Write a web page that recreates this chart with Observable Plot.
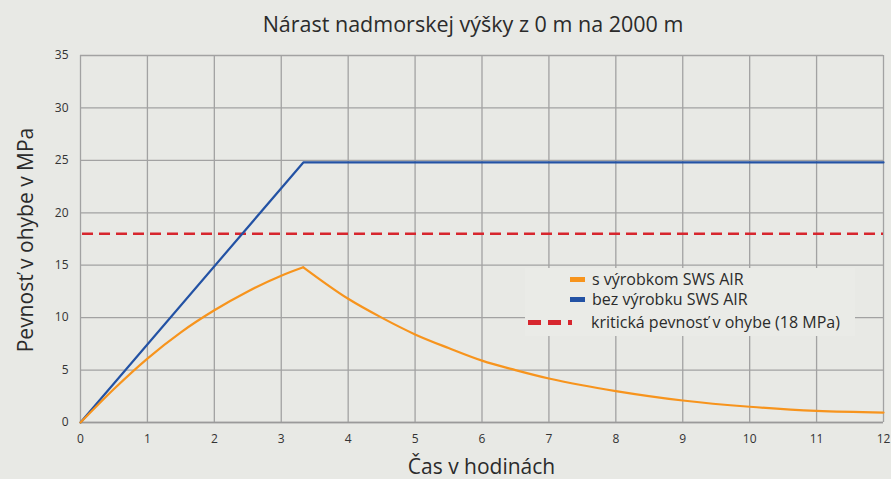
<!DOCTYPE html>
<html>
<head>
<meta charset="utf-8">
<script src="https://cdn.jsdelivr.net/npm/d3@7"></script>
<script src="https://cdn.jsdelivr.net/npm/@observablehq/plot@0.6"></script>
<style>
  html, body { margin: 0; padding: 0; background: #e8e9e5; }
  #wrap { position: relative; width: 891px; height: 479px; font-family: "Open Sans", "Noto Sans", sans-serif; color: #2b2b2b; overflow: hidden; }
  #title { position: absolute; left: 0; width: 946px; top: 9px; text-align: center; font-size: 21.5px; }
  #xlabel { position: absolute; left: 80px; width: 803px; top: 452px; text-align: center; font-size: 21px; }
  #ylabel { position: absolute; left: 25px; top: 240px; transform: translate(-50%, -50%) rotate(-90deg); white-space: nowrap; font-size: 21px; }
  #legend { position: absolute; left: 525px; top: 268px; width: 330px; height: 68px; background: #eaebe7; font-size: 16px; }
  .item { position: absolute; left: 0; height: 20px; display: flex; align-items: center; }
  .sw { display: inline-block; height: 5px; }
  svg { position: absolute; left: 0; top: 0; }
</style>
</head>
<body>
<div id="wrap">
  <div id="chart"></div>
  <div id="title"></div>
  <div id="ylabel"></div>
  <div id="xlabel"></div>
  <div id="legend"></div>
</div>
<script>
const title = "Nárast nadmorskej výšky z 0 m na 2000 m";
const xLabel = "Čas v hodinách";
const yLabel = "Pevnosť v ohybe v MPa";
const seriesNames = ["s výrobkom SWS AIR", "bez výrobku SWS AIR", "kritická pevnosť v ohybe (18 MPa)"];
const seriesColors = ["#f7941d", "#2352a4", "#d7262e"];

// s výrobkom SWS AIR — rising part
const withRiseT = [0, 0.5, 1, 1.5, 2, 2.5, 3, 3.33];
const withRiseV = [0, 3.2, 6.1, 8.6, 10.7, 12.5, 14.0, 14.8];
// s výrobkom SWS AIR — decay part
const withDecayT = [3.33, 4, 4.5, 5, 5.5, 6, 6.5, 7, 7.5, 8, 9, 10, 11, 12];
const withDecayV = [14.8, 11.8, 10.0, 8.4, 7.1, 5.9, 5.0, 4.2, 3.55, 3.0, 2.1, 1.5, 1.1, 0.95];
// bez výrobku SWS AIR
const withoutT = [0, 3.33, 12];
const withoutV = [0, 24.8, 24.8];
// kritická pevnosť
const critical = 18;

const xTicks = [0,1,2,3,4,5,6,7,8,9,10,11,12];
const yTicks = [0,5,10,15,20,25,30,35];

const withData = [
  ...withRiseT.map((t, i) => ({t, v: withRiseV[i], seg: "rise"})),
  ...withDecayT.map((t, i) => ({t, v: withDecayV[i], seg: "decay"}))
];
const withoutData = withoutT.map((t, i) => ({t, v: withoutV[i]}));

const chart = Plot.plot({
  width: 891,
  height: 479,
  marginTop: 55,
  marginBottom: 57,
  marginLeft: 80,
  marginRight: 8,
  style: { background: "transparent", fontFamily: "Open Sans, Noto Sans, sans-serif", fontSize: "12px", color: "#333" },
  x: { domain: [0, 12], label: null },
  y: { domain: [0, 35], label: null },
  marks: [
    Plot.gridX(xTicks, { stroke: "#a2a2a2", strokeOpacity: 1, strokeWidth: 1.3 }),
    Plot.gridY(yTicks, { stroke: "#a2a2a2", strokeOpacity: 1, strokeWidth: 1.3 }),
    Plot.ruleY([0], { stroke: "#9a9a9a", strokeWidth: 1.5 }),
    Plot.axisX({ ticks: xTicks, tickSize: 0, tickPadding: 12, tickFormat: d => d, fill: "#333" }),
    Plot.axisY({ ticks: yTicks, tickSize: 0, tickPadding: 12, tickFormat: d => d, fill: "#333" }),
    Plot.ruleY([critical], { x1: 0.03, x2: 12, stroke: seriesColors[2], strokeWidth: 2.6, strokeDasharray: "11,6" }),
    Plot.line(withoutData, { x: "t", y: "v", stroke: seriesColors[1], strokeWidth: 2.2 }),
    Plot.line(withData, { x: "t", y: "v", z: "seg", stroke: seriesColors[0], strokeWidth: 2.2, curve: "monotone-x" })
  ]
});
document.getElementById("chart").appendChild(chart);
document.getElementById("title").textContent = title;
document.getElementById("xlabel").textContent = xLabel;
document.getElementById("ylabel").textContent = yLabel;

const legend = document.getElementById("legend");
const tops = [1, 21, 44];
seriesNames.forEach((name, i) => {
  const item = document.createElement("div");
  item.className = "item";
  item.style.top = tops[i] + "px";
  const sw = document.createElement("span");
  if (i < 2) {
    sw.className = "sw";
    sw.style.width = "15px";
    sw.style.marginLeft = "45px";
    sw.style.background = seriesColors[i];
  } else {
    sw.className = "sw";
    sw.style.width = "44px";
    sw.style.marginLeft = "3px";
    sw.style.height = "5px";
    sw.style.background = `repeating-linear-gradient(to right, ${seriesColors[2]} 0 13px, transparent 13px 20px)`;
  }
  const txt = document.createElement("span");
  txt.textContent = name;
  txt.style.marginLeft = i < 2 ? "7px" : "19px";
  item.appendChild(sw);
  item.appendChild(txt);
  legend.appendChild(item);
});
</script>
</body>
</html>
